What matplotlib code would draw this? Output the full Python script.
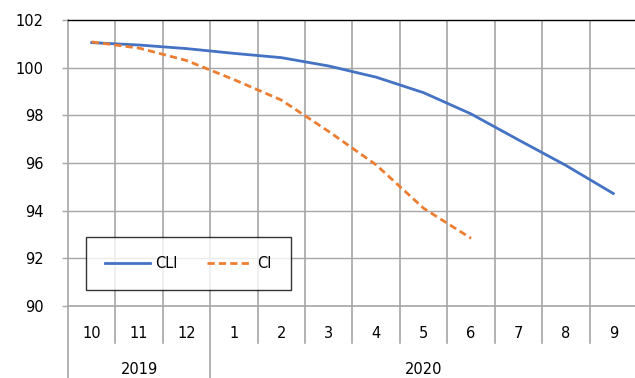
import matplotlib
matplotlib.use("Agg")
import matplotlib.pyplot as plt
import matplotlib.transforms as mtransforms

months = ["10", "11", "12", "1", "2", "3", "4", "5", "6", "7", "8", "9"]
years = ["2019", "2020"]
year_spans = [(0, 3), (3, 12)]
cli = [101.05, 100.95, 100.8, 100.6, 100.42, 100.07, 99.6, 98.95, 98.06, 96.97, 95.9, 94.72]
ci = [101.08, 100.82, 100.3, 99.5, 98.64, 97.32, 95.92, 94.1, 92.84]

plt.rcParams["font.family"] = ["DejaVu Sans"]
plt.rcParams["font.size"] = 10

grid_col = "#a6a6a6"
blue = "#4472c4"
orange = "#ed7d31"

fig = plt.figure(figsize=(6.35, 3.78), dpi=100)
ax = fig.add_axes([68 / 635, 72 / 378, 569 / 635, 286 / 378])

x = list(range(len(months)))
ax.plot(x, cli, color=blue, lw=2.0, label="CLI")
ax.plot(x[:len(ci)], ci, color=orange, lw=2.0, ls=(0, (2.6, 1.5)), label="CI")

ax.set_xlim(-0.5, len(months) - 0.5)
ax.set_ylim(90, 102)
ax.set_yticks(range(90, 103, 2))
ax.tick_params(axis="y", length=4.3, width=1.0, color=grid_col, pad=13.5, labelsize=10.5)
ax.set_xticks([])

# grid
for v in range(92, 102, 2):
    ax.axhline(v, color=grid_col, lw=1.0, zorder=0)
for b in range(1, len(months)):
    ax.axvline(b - 0.5, color=grid_col, lw=1.2, zorder=0)

for side in ["left", "bottom", "right"]:
    ax.spines[side].set_color(grid_col)
    ax.spines[side].set_linewidth(1.2)
ax.spines["top"].set_color("black")
ax.spines["top"].set_linewidth(1.0)

# multi-level category axis
trans = mtransforms.blended_transform_factory(ax.transData, ax.transAxes)
inner_drop = 37 / 286
outer_drop = 72 / 286
year_starts = [s for s, e in year_spans]
for b in range(len(months) + 1):
    drop = outer_drop if b in year_starts or b == len(months) else inner_drop
    ax.plot([b - 0.5, b - 0.5], [0, -drop], color=grid_col, lw=1.2,
            transform=trans, clip_on=False)
for i, m in enumerate(months):
    ax.text(i, -27 / 286, m, transform=trans, ha="center", va="center", fontsize=10.5)
for yr, (s, e) in zip(years, year_spans):
    ax.text((s + e - 1) / 2, -64 / 286, yr, transform=trans, ha="center", va="center",
            fontsize=10.5)

leg = ax.legend(loc="lower left", bbox_to_anchor=(18 / 569, 16 / 286),
                ncol=2, frameon=True, fancybox=False, fontsize=10.5,
                handlelength=3.1, handletextpad=0.35, columnspacing=2.0,
                borderpad=1.3, borderaxespad=0)
leg.get_frame().set_edgecolor("black")
leg.get_frame().set_linewidth(1.0)

fig.savefig("out.png", dpi=100)
